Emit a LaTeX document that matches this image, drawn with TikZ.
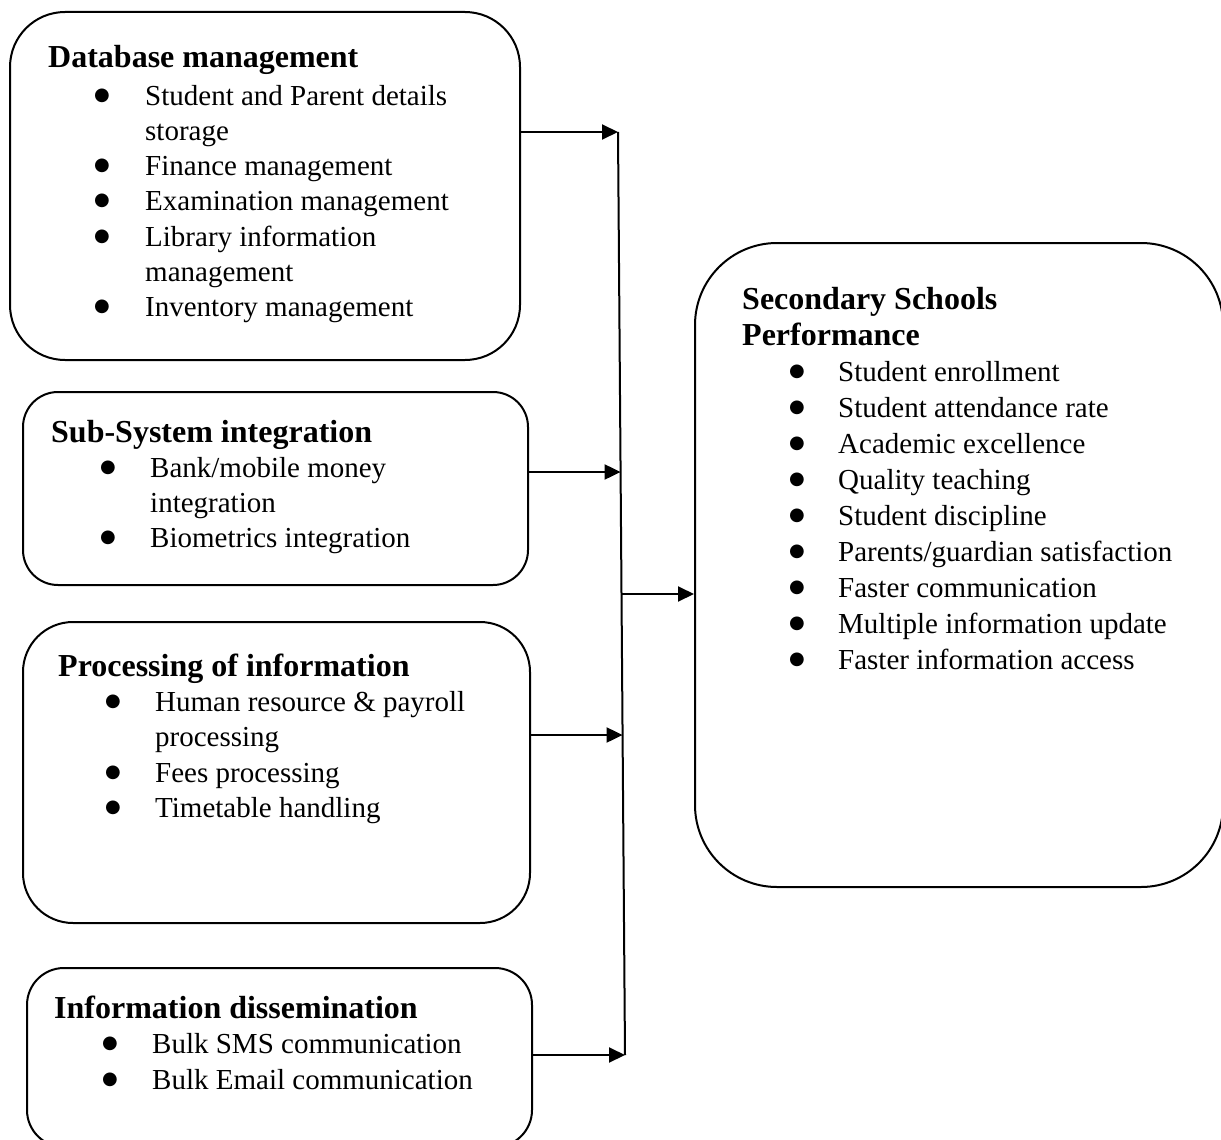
\documentclass[tikz,border=0pt]{standalone}
\usepackage{fontspec}
\setmainfont{Liberation Serif}
\newfontfamily\dotfont{DejaVu Sans}
\usepackage{tikz}
\usetikzlibrary{arrows.meta}

\begin{document}
\begin{tikzpicture}[x=1pt, y=-1pt,
	box/.style={draw, line width=2pt, rounded corners=#1, inner sep=0pt},
	head/.style={anchor=base west, inner sep=0pt, font=\bfseries\fontsize{32}{36}\selectfont},
	item/.style={anchor=base west, inner sep=0pt, font=\fontsize{29}{35}\selectfont},
	dot/.style={anchor=center, inner sep=0pt, yshift=9pt, font=\dotfont\fontsize{18}{18}\selectfont},
	feed/.style={line width=2pt, -{Triangle[length=16pt,width=15pt]}}]
			\useasboundingbox (0,0) rectangle (1221,1140);
			% boxes
			\node[box=55, minimum width=510pt, minimum height=348pt] (dbm) at (265,186) {};
			\node[box=35, minimum width=505pt, minimum height=193pt] (ssi) at (275.5,488.5) {};
			\node[box=50, minimum width=507pt, minimum height=301pt] (poi) at (276.5,772.5) {};
			\node[box=37, minimum width=505pt, minimum height=179pt] (ind) at (279.5,1057.5) {};
			\node[box=82, minimum width=528pt, minimum height=644pt] (ssp) at (959,565) {};
			% database management
			\node[head] (dbmh) at (48,68) {Database management};
			\node[dot] (dbmd1) at (102,105) {●};
			\node[item] (dbm1) at (145,105) {Student and Parent details};
			\node[item] (dbm1b) at (145,140) {storage};
			\node[dot] (dbmd2) at (102,175) {●};
			\node[item] (dbm2) at (145,175) {Finance management};
			\node[dot] (dbmd3) at (102,210) {●};
			\node[item] (dbm3) at (145,210) {Examination management};
			\node[dot] (dbmd4) at (102,246) {●};
			\node[item] (dbm4) at (145,246) {Library information};
			\node[item] (dbm4b) at (145,281) {management};
			\node[dot] (dbmd5) at (102,316) {●};
			\node[item] (dbm5) at (145,316) {Inventory management};
			% sub-system integration
			\node[head] (ssih) at (51,442) {Sub-System integration};
			\node[dot] (ssid1) at (108,477) {●};
			\node[item] (ssi1) at (150,477) {Bank/mobile money};
			\node[item] (ssi1b) at (150,512) {integration};
			\node[dot] (ssid2) at (108,547) {●};
			\node[item] (ssi2) at (150,547) {Biometrics integration};
			% processing of information
			\node[head] (poih) at (58,676) {Processing of information};
			\node[dot] (poid1) at (113,711) {●};
			\node[item] (poi1) at (155,711) {Human resource \& payroll};
			\node[item] (poi1b) at (155,746) {processing};
			\node[dot] (poid2) at (113,782) {●};
			\node[item] (poi2) at (155,782) {Fees processing};
			\node[dot] (poid3) at (113,817) {●};
			\node[item] (poi3) at (155,817) {Timetable handling};
			% information dissemination
			\node[head] (indh) at (54,1018) {Information dissemination};
			\node[dot] (indd1) at (110,1053) {●};
			\node[item] (ind1) at (152,1053) {Bulk SMS communication};
			\node[dot] (indd2) at (110,1089) {●};
			\node[item] (ind2) at (152,1089) {Bulk Email communication};
			% secondary schools performance
			\node[head] (ssph) at (742,309) {Secondary Schools};
			\node[head] (ssphb) at (742,345) {Performance};
			\node[dot] (sspd1) at (797,381) {●};
			\node[item] (ssp1) at (838,381) {Student enrollment};
			\node[dot] (sspd2) at (797,417) {●};
			\node[item] (ssp2) at (838,417) {Student attendance rate};
			\node[dot] (sspd3) at (797,453) {●};
			\node[item] (ssp3) at (838,453) {Academic excellence};
			\node[dot] (sspd4) at (797,489) {●};
			\node[item] (ssp4) at (838,489) {Quality teaching};
			\node[dot] (sspd5) at (797,525) {●};
			\node[item] (ssp5) at (838,525) {Student discipline};
			\node[dot] (sspd6) at (797,561) {●};
			\node[item] (ssp6) at (838,561) {Parents/guardian satisfaction};
			\node[dot] (sspd7) at (797,597) {●};
			\node[item] (ssp7) at (838,597) {Faster communication};
			\node[dot] (sspd8) at (797,633) {●};
			\node[item] (ssp8) at (838,633) {Multiple information update};
			\node[dot] (sspd9) at (797,669) {●};
			\node[item] (ssp9) at (838,669) {Faster information access};
			% bus line and arrows
			\coordinate (bus1) at (618,132);
			\coordinate (bus2) at (620.6,472);
			\coordinate (busm) at (621.7,594);
			\coordinate (bus3) at (622.6,735);
			\coordinate (bus4) at (625,1055);
			\draw[line width=2pt] (bus1) -- (bus4);
			\draw[feed] (dbm.east |- bus1) -- (bus1);
			\draw[feed] (ssi.east |- bus2) -- (bus2);
			\draw[feed] (poi.east |- bus3) -- (bus3);
			\draw[feed] (ind.east |- bus4) -- (bus4);
			\draw[feed] (busm) -- (ssp.west |- busm);
		\end{tikzpicture}
\end{document}
